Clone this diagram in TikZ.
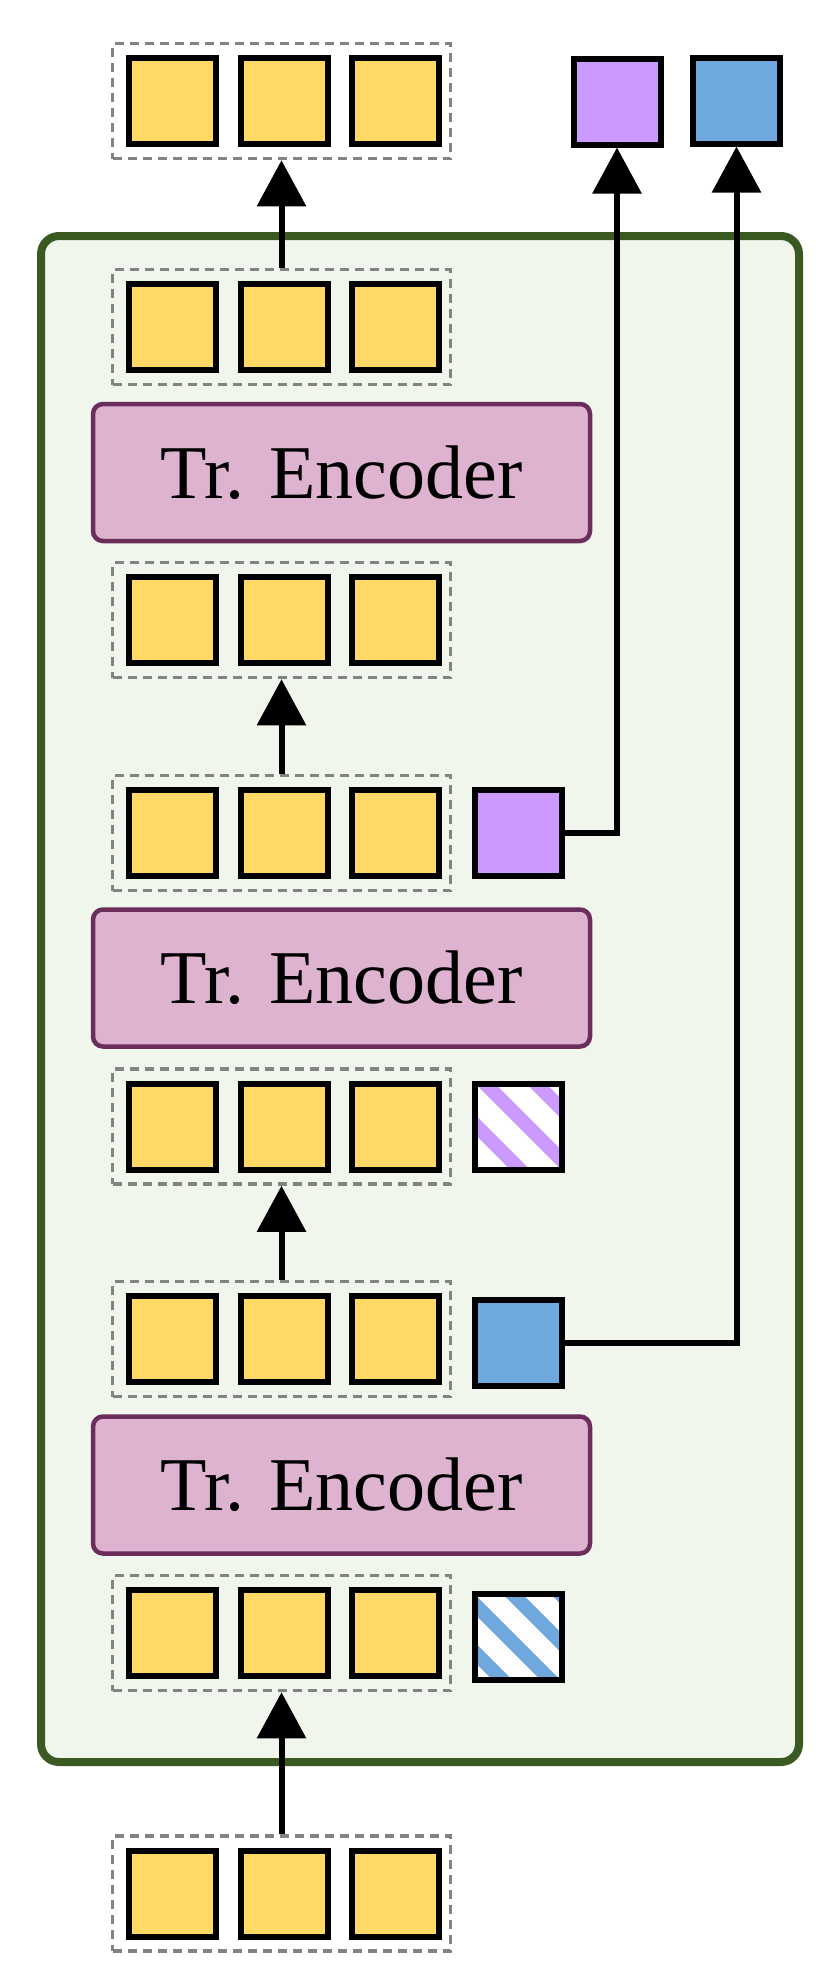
\documentclass[tikz,border=0pt]{standalone}
\usepackage{fontspec}
\setmainfont{Liberation Serif}
\usetikzlibrary{arrows.meta}
\definecolor{tokyellow}{HTML}{FFD966}
\definecolor{tokpurple}{HTML}{CC99FF}
\definecolor{tokblue}{HTML}{6FA8DC}
\definecolor{greenfill}{HTML}{F1F6EC}
\definecolor{greenborder}{HTML}{3A5A22}
\definecolor{encfill}{HTML}{DEB3D0}
\definecolor{encborder}{HTML}{6B2E5C}
\definecolor{dashgrey}{HTML}{838383}
\tikzset{
  tok/.style={rectangle, draw=black, line width=6pt, minimum width=87pt, minimum height=86pt, inner sep=0pt},
  ytok/.style={tok, fill=tokyellow},
  grp/.style={rectangle, draw=dashgrey, line width=3.5pt, dash pattern=on 9pt off 6pt, minimum width=338pt, minimum height=115pt, inner sep=0pt},
  enc/.style={rectangle, rounded corners=10pt, draw=encborder, fill=encfill, line width=4.5pt, minimum width=497pt, minimum height=137pt, inner sep=0pt, font=\fontsize{76}{80}\selectfont},
  outerbox/.style={draw=greenborder, fill=greenfill, line width=8pt, rounded corners=18pt},
  arr/.style={draw=black, line width=6pt, -{Triangle[length=46pt, width=48pt]}},
  hatchP/.style={path picture={\foreach \c in {-92.5,-41.5,9.5,60.5}
      \draw[tokpurple, line width=14pt] ([shift={(\c,0)}]path picture bounding box.center) ++(-120,-120) -- ++(240,240);}},
  hatchB/.style={path picture={\foreach \c in {-107,-59,-11,37,85}
      \draw[tokblue, line width=14pt] ([shift={(\c,0)}]path picture bounding box.center) ++(-120,-120) -- ++(240,240);}}
}
\newcommand\tokrow[2]{%
  \node[grp] (#1) at (281.5,#2) {};
  \node[ytok] (#1a) at (172.5,#2) {};
  \node[ytok] (#1b) at (284,#2) {};
  \node[ytok] (#1c) at (395.5,#2) {};
}
\begin{document}
\begin{tikzpicture}[x=1pt, y=-1pt]
  \useasboundingbox (0,0) rectangle (834,1973);
  \path[fill=white] (0,0) rectangle (834,1973);
  % model container
  \node[outerbox, minimum width=758pt, minimum height=1526pt, inner sep=0pt] (model) at (420,999) {};
  % token rows
  \tokrow{rT}{101}
  \tokrow{rA}{327}
  \tokrow{rB}{620}
  \tokrow{rC}{833}
  \tokrow{rD}{1126.5}
  \tokrow{rE}{1339}
  \tokrow{rF}{1633}
  \tokrow{rG}{1893.5}
  % encoders
  \node[enc] (enc1) at (341.5,472.5) {Tr. Encoder};
  \node[enc] (enc2) at (341.5,978) {Tr. Encoder};
  \node[enc] (enc3) at (341.5,1485) {Tr. Encoder};
  % side tokens
  \node[tok, fill=tokpurple] (pC) at (518.5,832.5) {};
  \node[tok, fill=white, hatchP] (hD) at (518.5,1126.5) {};
  \node[tok, fill=tokblue] (bE) at (518.5,1343) {};
  \node[tok, fill=white, hatchB] (hF) at (518.5,1637) {};
  \node[tok, fill=tokpurple] (pT) at (617,101.5) {};
  \node[tok, fill=tokblue] (bT) at (736.5,100.5) {};
  % arrows
  \draw[arr] (rA.north) -- (rT.south);
  \draw[arr] (rC.north) -- (rB.south);
  \draw[arr] (rE.north) -- (rD.south);
  \draw[arr] (rG.north) -- (rF.south);
  \draw[arr] (pC.east) -| (pT.south);
  \draw[arr] (bE.east) -| (bT.south);
\end{tikzpicture}
\end{document}
